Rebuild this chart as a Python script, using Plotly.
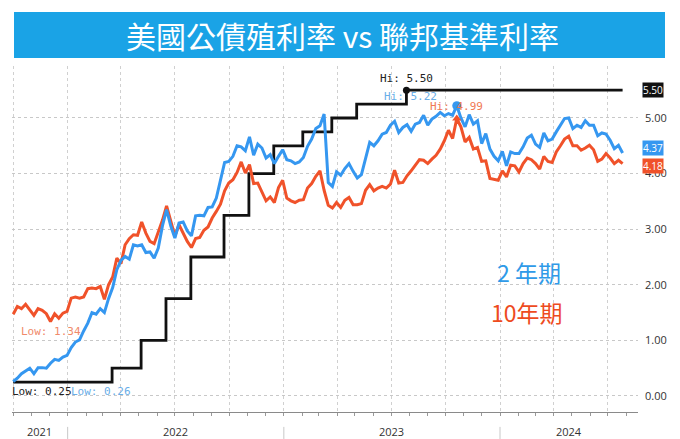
import pandas as pd
import plotly.graph_objects as go

# Weekly (Friday) closes, 2021-10-01 .. 2024-07-26
week_start = "2021-10-01"

ust_2y = [
    # 2021 Q4
    0.26, 0.32, 0.40, 0.45, 0.50, 0.40, 0.51, 0.51, 0.50, 0.59, 0.66, 0.64, 0.70, 0.73,
    # 2022
    0.87, 0.97, 1.01, 1.17, 1.31, 1.50, 1.47, 1.57, 1.50, 1.75, 1.95, 2.27, 2.44,
    2.51, 2.46, 2.72, 2.70, 2.72, 2.58, 2.59, 2.48, 2.66, 3.06, 3.35, 3.06, 2.84,
    3.11, 3.13, 2.97, 2.88, 3.24, 3.25, 3.24, 3.39, 3.40, 3.56, 3.87, 4.20, 4.22,
    4.31, 4.50, 4.48, 4.41, 4.66, 4.33, 4.53, 4.46, 4.28, 4.34, 4.18, 4.31, 4.43,
    # 2023
    4.25, 4.23, 4.18, 4.21, 4.29, 4.49, 4.62, 4.81, 4.86, 5.07, 3.84, 3.77, 4.03,
    3.97, 4.09, 4.18, 4.04, 3.92, 3.98, 4.27, 4.56, 4.50, 4.59, 4.71, 4.74, 4.87,
    4.94, 4.74, 4.83, 4.88, 4.76, 4.89, 4.92, 5.05, 4.87, 4.98, 5.03, 5.10, 5.04,
    5.08, 5.05, 5.22, 5.00, 4.84, 5.06, 4.89, 4.95, 4.54, 4.72, 4.44, 4.31, 4.23,
    # 2024
    4.40, 4.14, 4.39, 4.36, 4.36, 4.48, 4.64, 4.69, 4.53, 4.47, 4.73, 4.59, 4.62,
    4.75, 4.88, 4.99, 5.00, 4.81, 4.87, 4.83, 4.95, 4.87, 4.87, 4.68, 4.73, 4.71,
    4.60, 4.45, 4.51, 4.37,
]

ust_10y = [
    # 2021 Q4
    1.47, 1.61, 1.57, 1.65, 1.55, 1.45, 1.57, 1.54, 1.48, 1.34, 1.48, 1.40, 1.49, 1.52,
    # 2022
    1.76, 1.78, 1.76, 1.78, 1.93, 1.94, 1.93, 1.97, 1.74, 2.00, 2.14, 2.48, 2.38,
    2.72, 2.83, 2.90, 2.89, 3.13, 2.93, 2.78, 2.74, 2.94, 3.16, 3.42, 3.13, 2.88,
    3.08, 2.93, 2.78, 2.67, 2.83, 2.85, 2.98, 3.04, 3.20, 3.32, 3.45, 3.69, 3.83,
    3.89, 4.02, 4.21, 4.01, 4.16, 3.82, 3.83, 3.68, 3.51, 3.58, 3.48, 3.75, 3.88,
    # 2023
    3.56, 3.51, 3.48, 3.52, 3.53, 3.74, 3.82, 3.95, 4.05, 3.70, 3.43, 3.38, 3.48,
    3.39, 3.52, 3.57, 3.44, 3.44, 3.46, 3.70, 3.80, 3.69, 3.74, 3.77, 3.74, 3.81,
    4.06, 3.83, 3.84, 3.96, 4.05, 4.16, 4.25, 4.24, 4.18, 4.26, 4.33, 4.44, 4.59,
    4.78, 4.63, 4.99, 4.84, 4.57, 4.65, 4.44, 4.47, 4.22, 4.23, 3.91, 3.90, 3.88,
    # 2024
    4.05, 3.94, 4.15, 4.14, 4.03, 4.18, 4.28, 4.25, 4.18, 4.08, 4.31, 4.22, 4.20,
    4.39, 4.50, 4.62, 4.67, 4.50, 4.50, 4.42, 4.46, 4.51, 4.43, 4.22, 4.26, 4.36,
    4.28, 4.18, 4.24, 4.18,
]

# Fed funds target (upper bound): effective dates and levels
fed_dates = ["2021-10-01", "2022-03-17", "2022-05-05", "2022-06-16", "2022-07-28",
             "2022-09-22", "2022-11-03", "2022-12-15", "2023-02-02", "2023-03-23",
             "2023-05-04", "2023-07-27", "2024-07-26"]
fed_rate = [0.25, 0.50, 1.00, 1.75, 2.50, 3.25, 4.00, 4.50, 4.75, 5.00, 5.25, 5.50, 5.50]

y_ticks = [0, 1, 2, 3, 4, 5]
years = [2021, 2022, 2023, 2024]

title_text = "美國公債殖利率 vs 聯邦基準利率"
label_2y = "2 年期"
label_10y = "10年期"

BLUE = "#3597f0"
RED = "#f0522a"
BLACK = "#111111"
CJK = "Noto Sans CJK TC"
MONO = "DejaVu Sans Mono"
SANS = "Open Sans"

weeks = pd.date_range(week_start, periods=len(ust_2y), freq="W-FRI")
x_range = [pd.Timestamp("2021-09-29"), pd.Timestamp("2024-08-21")]

fig = go.Figure()

fig.add_trace(go.Scatter(x=fed_dates, y=fed_rate, mode="lines", line_shape="hv",
                         line=dict(color=BLACK, width=2.8), hoverinfo="skip"))
fig.add_trace(go.Scatter(x=weeks, y=ust_10y, mode="lines",
                         line=dict(color=RED, width=3), hoverinfo="skip"))
fig.add_trace(go.Scatter(x=weeks, y=ust_2y, mode="lines",
                         line=dict(color=BLUE, width=3), hoverinfo="skip"))

# Highs and lows
i2_hi = max(range(len(ust_2y)), key=lambda i: ust_2y[i])
i10_hi = max(range(len(ust_10y)), key=lambda i: ust_10y[i])
i2_lo = min(range(len(ust_2y)), key=lambda i: ust_2y[i])
i10_lo = min(range(len(ust_10y)), key=lambda i: ust_10y[i])
fed_hi_i = fed_rate.index(max(fed_rate))

fig.add_trace(go.Scatter(x=[weeks[i10_hi]], y=[ust_10y[i10_hi]], mode="markers",
                         marker=dict(color=RED, size=8, symbol="triangle-up"), hoverinfo="skip"))
fig.add_trace(go.Scatter(x=[weeks[i2_hi]], y=[ust_2y[i2_hi]], mode="markers",
                         marker=dict(color=BLUE, size=9), hoverinfo="skip"))
fig.add_trace(go.Scatter(x=[fed_dates[fed_hi_i]], y=[fed_rate[fed_hi_i]], mode="markers",
                         marker=dict(color=BLACK, size=7), hoverinfo="skip"))

ann = []
ann.append(dict(x=fed_dates[fed_hi_i], y=fed_rate[fed_hi_i], xref="x", yref="y",
                text=f"Hi: {fed_rate[fed_hi_i]:.2f}", showarrow=False,
                xanchor="center", yanchor="bottom", yshift=3,
                font=dict(family=MONO, size=11, color="#222")))
ann.append(dict(x=weeks[i2_hi], y=ust_2y[i2_hi], xref="x", yref="y",
                text=f"Hi: {ust_2y[i2_hi]:.2f}", showarrow=False,
                xanchor="center", yanchor="middle", xshift=-46, yshift=9,
                font=dict(family=MONO, size=11, color="#6aaee8")))
ann.append(dict(x=weeks[i10_hi], y=ust_10y[i10_hi], xref="x", yref="y",
                text=f"Hi: {ust_10y[i10_hi]:.2f}", showarrow=False,
                xanchor="center", yanchor="bottom", yshift=4,
                font=dict(family=MONO, size=11, color="#f07a55")))
ann.append(dict(x=weeks[i10_lo], y=ust_10y[i10_lo], xref="x", yref="y",
                text=f"Low: {ust_10y[i10_lo]:.2f}", showarrow=False,
                xanchor="center", yanchor="top", yshift=-2,
                font=dict(family=MONO, size=11, color="#f08a6a")))
ann.append(dict(x=fed_dates[0], y=fed_rate[0], xref="x", yref="y",
                text=f"Low: {fed_rate[0]:.2f}", showarrow=False,
                xanchor="left", yanchor="top", yshift=-1, xshift=-3,
                font=dict(family=MONO, size=11, color="#222")))
ann.append(dict(x=weeks[i2_lo], y=ust_2y[i2_lo], xref="x", yref="y",
                text=f"Low: {ust_2y[i2_lo]:.2f}", showarrow=False,
                xanchor="left", yanchor="top", yshift=-1, xshift=56,
                font=dict(family=MONO, size=11, color="#6aaee8")))

# Last-value tags on the right edge
tag_x = 1 + 4 / 626
for val, col, ys in [(fed_rate[-1], BLACK, 0), (ust_2y[-1], BLUE, 5), (ust_10y[-1], RED, -2)]:
    ann.append(dict(x=tag_x, y=val, xref="paper", yref="y", text=f"{val:.2f}",
                    showarrow=False, xanchor="left", yanchor="middle", yshift=ys,
                    bgcolor=col, borderpad=0,
                    font=dict(family=SANS, size=10, color="white")))

# Series legend text
ann.append(dict(x=(563 - 12) / 626, y=(412 - 272) / 346, xref="paper", yref="paper",
                text=label_2y, showarrow=False, xanchor="right", yanchor="middle",
                font=dict(family=CJK, size=23, color="#2f9ae8")))
ann.append(dict(x=(565 - 12) / 626, y=(412 - 312) / 346, xref="paper", yref="paper",
                text=label_10y, showarrow=False, xanchor="right", yanchor="middle",
                font=dict(family=CJK, size=23, color="#ee4b1e")))

# Title banner text
ann.append(dict(x=(342 - 12) / 626, y=(412 - 35) / 346, xref="paper", yref="paper",
                text=title_text, showarrow=False, xanchor="center", yanchor="middle",
                font=dict(family=CJK, size=30, color="white")))

# Year labels centred in the visible part of each year
shapes = []
for yr in years:
    a = max(pd.Timestamp(f"{yr}-01-01"), x_range[0])
    b = min(pd.Timestamp(f"{yr + 1}-01-01"), x_range[1])
    mid = a + (b - a) / 2
    ann.append(dict(x=mid, y=-0.055, xref="x", yref="paper", text=str(yr),
                    showarrow=False, xanchor="center", yanchor="middle",
                    font=dict(family=SANS, size=11, color="#333")))
    if yr > years[0]:
        shapes.append(dict(type="line", xref="x", yref="paper",
                           x0=f"{yr}-01-01", x1=f"{yr}-01-01", y0=-0.043, y1=-0.078,
                           line=dict(color="#c8c8c8", width=1)))

shapes.append(dict(type="rect", xref="paper", yref="paper",
                   x0=(14 - 12) / 626, x1=(665 - 12) / 626,
                   y0=(412 - 58) / 346, y1=(412 - 12) / 346,
                   fillcolor="#1aa3e6", line=dict(width=0), layer="below"))

quarters = pd.date_range("2021-10-01", "2024-07-01", freq="QS")
months = pd.date_range("2021-10-01", "2024-08-01", freq="MS")

fig.update_layout(
    width=680, height=439,
    margin=dict(l=12, r=42, t=66, b=27),
    paper_bgcolor="white", plot_bgcolor="white",
    showlegend=False,
    annotations=ann, shapes=shapes,
    xaxis=dict(range=x_range, tickmode="array", tickvals=list(quarters),
               ticktext=[""] * len(quarters), ticks="outside", ticklen=3,
               tickcolor="#999", showgrid=True, gridcolor="#d0d0d0", griddash="dot",
               gridwidth=1, showline=True, linecolor="#8a8a8a", linewidth=1,
               zeroline=False,
               minor=dict(tickmode="array", tickvals=list(months), ticks="outside",
                          ticklen=3, tickcolor="#999", showgrid=False)),
    yaxis=dict(range=[-0.288, 5.935], side="right", tickmode="array",
               tickvals=y_ticks, ticktext=[f"{v:.2f}" for v in y_ticks],
               showgrid=True, gridcolor="#c8c8c8", griddash="dot", gridwidth=1,
               zeroline=False, showline=False, ticks="", ticklabelstandoff=6,
               tickfont=dict(family=SANS, size=11, color="#333")),
)

fig.write_html("out.html")
